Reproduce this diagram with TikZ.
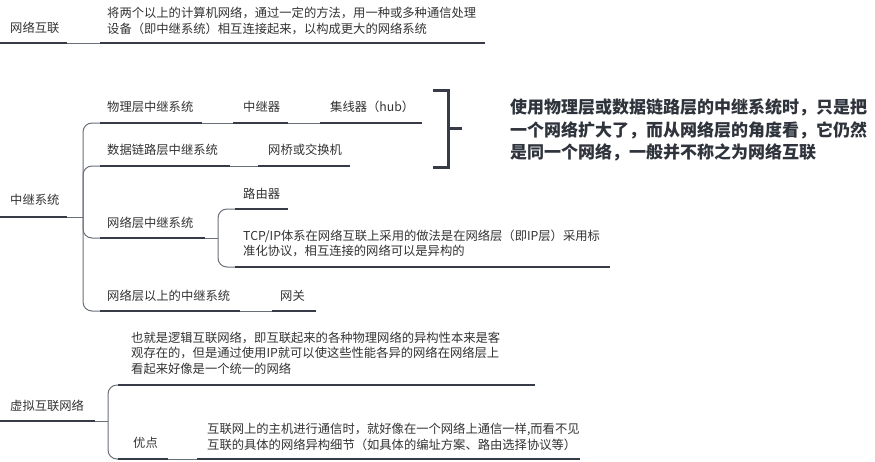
\documentclass[tikz,border=0pt]{standalone}
\usepackage{fontspec}
\setmainfont{Noto Sans CJK SC}
\definecolor{textc}{HTML}{333333}
\definecolor{boldc}{HTML}{2E333C}
\definecolor{linec}{HTML}{363B47}
\definecolor{connc}{HTML}{6A6F78}
\tikzset{
  txt/.style={font=\fontsize{12.3}{15.5}\selectfont, text=textc, inner sep=0pt, anchor=west, align=left},
  boldtxt/.style={font=\fontsize{17}{22.5}\selectfont\bfseries, text=boldc, inner sep=0pt, anchor=west, align=left},
  ul/.style={draw=linec, line width=1.8pt},
  conn/.style={draw=connc, line width=1pt, rounded corners=9pt},
  brk/.style={draw=linec, line width=3pt}
}
\begin{document}
\begin{tikzpicture}[x=1pt,y=-1pt]
\useasboundingbox (0,0) rectangle (875,461);
\fill[white] (0,0) rectangle (875,461);

% ---------- 网络互联 ----------
\node[txt] (wl) at (10,28) {网络互联};
\coordinate (wlL) at (0,43); \coordinate (wlR) at (67,43);
\node[txt] (wld) at (107,21) {将两个以上的计算机网络，通过一定的方法，用一种或多种通信处理\\设备（即中继系统）相互连接起来，以构成更大的网络系统};
\coordinate (wldL) at (100,43); \coordinate (wldR) at (485,43);
\draw[conn] (wlR) -- (wldL);
\draw[ul] (wlL) -- (wlR);
\draw[ul] (wldL) -- (wldR);

% ---------- 中继系统 ----------
\node[txt] (zj) at (10,200) {中继系统};
\coordinate (zjL) at (0,217); \coordinate (zjR) at (67,217);
\coordinate (zjB) at (83,217);

\node[txt] (ph) at (107,107) {物理层中继系统};
\coordinate (phL) at (100,123); \coordinate (phR) at (202,123);
\node[txt] (zjq) at (243,107) {中继器};
\coordinate (zjqL) at (233,123); \coordinate (zjqR) at (288,123);
\node[txt] (hub) at (330,107) {集线器（hub）};
\coordinate (hubL) at (320,123); \coordinate (hubR) at (422,123);

\node[txt] (dl) at (107,150) {数据链路层中继系统};
\coordinate (dlL) at (100,166); \coordinate (dlR) at (230,166);
\node[txt] (wq) at (268,150) {网桥或交换机};
\coordinate (wqL) at (258,166); \coordinate (wqR) at (350,166);

\node[txt] (nl) at (107,223) {网络层中继系统};
\coordinate (nlL) at (100,238); \coordinate (nlR) at (205,238);
\coordinate (nlB) at (218,238);
\node[txt] (lyq) at (243,194) {路由器};
\coordinate (lyqL) at (235,209); \coordinate (lyqR) at (288,209);
\node[txt] (tcp) at (243,243.5) {TCP/IP体系在网络互联上采用的做法是在网络层（即IP层）采用标\\准化协议，相互连接的网络可以是异构的};
\coordinate (tcpL) at (235,267); \coordinate (tcpR) at (610,267);

\node[txt] (gl) at (107,296) {网络层以上的中继系统};
\coordinate (glL) at (100,311); \coordinate (glR) at (240,311);
\node[txt] (wg) at (280,296) {网关};
\coordinate (wgL) at (272,311); \coordinate (wgR) at (316,311);

\draw[conn] (zjR) -- (zjB);
\draw[conn] (zjB) |- (phL);
\draw[conn] (zjB) |- (dlL);
\draw[conn] (zjB) |- (nlL);
\draw[conn] (zjB) |- (glL);
\draw[conn] (phR) -- (zjqL);
\draw[conn] (zjqR) -- (hubL);
\draw[conn] (dlR) -- (wqL);
\draw[conn] (nlR) -- (nlB);
\draw[conn] (nlB) |- (lyqL);
\draw[conn] (nlB) |- (tcpL);
\draw[conn] (glR) -- (wgL);

\draw[ul] (zjL) -- (zjR);
\draw[ul] (phL) -- (phR);
\draw[ul] (zjqL) -- (zjqR);
\draw[ul] (hubL) -- (hubR);
\draw[ul] (dlL) -- (dlR);
\draw[ul] (wqL) -- (wqR);
\draw[ul] (nlL) -- (nlR);
\draw[ul] (lyqL) -- (lyqR);
\draw[ul] (tcpL) -- (tcpR);
\draw[ul] (glL) -- (glR);
\draw[ul] (wgL) -- (wgR);

% ---------- bracket and note ----------
\coordinate (bT) at (433,90); \coordinate (bTR) at (448,90);
\coordinate (bBR) at (448,167); \coordinate (bB) at (433,167);
\coordinate (bM) at (448,128); \coordinate (bTip) at (462,128);
\draw[brk] (bT) -- (bTR) -- (bBR) -- (bB);
\draw[brk] (bM) -- (bTip);
\node[boldtxt] (note) at (510,130) {使用物理层或数据链路层的中继系统时，只是把\\一个网络扩大了，而从网络层的角度看，它仍然\\是同一个网络，一般并不称之为网络互联};

% ---------- 虚拟互联网络 ----------
\node[txt] (xn) at (10,406) {虚拟互联网络};
\coordinate (xnL) at (0,421); \coordinate (xnR) at (95,421);
\coordinate (xnB) at (108,421);
\node[txt] (lj) at (131,353) {也就是逻辑互联网络，即互联起来的各种物理网络的异构性本来是客\\观存在的，但是通过使用IP就可以使这些性能各异的网络在网络层上\\看起来好像是一个统一的网络};
\coordinate (ljL) at (118,385); \coordinate (ljR) at (535,385);
\node[txt] (yd) at (133,443) {优点};
\coordinate (ydL) at (118,459); \coordinate (ydR) at (168,459);
\node[txt] (ydd) at (207,437) {互联网上的主机进行通信时，就好像在一个网络上通信一样,而看不见\\互联的具体的网络异构细节（如具体的编址方案、路由选择协议等）};
\coordinate (yddL) at (197,459); \coordinate (yddR) at (580,459);

\draw[conn] (xnR) -- (xnB);
\draw[conn] (xnB) |- (ljL);
\draw[conn] (xnB) |- (ydL);
\draw[conn] (ydR) -- (yddL);
\draw[ul] (xnL) -- (xnR);
\draw[ul] (ljL) -- (ljR);
\draw[ul] (ydL) -- (ydR);
\draw[ul] (yddL) -- (yddR);
\end{tikzpicture}
\end{document}
